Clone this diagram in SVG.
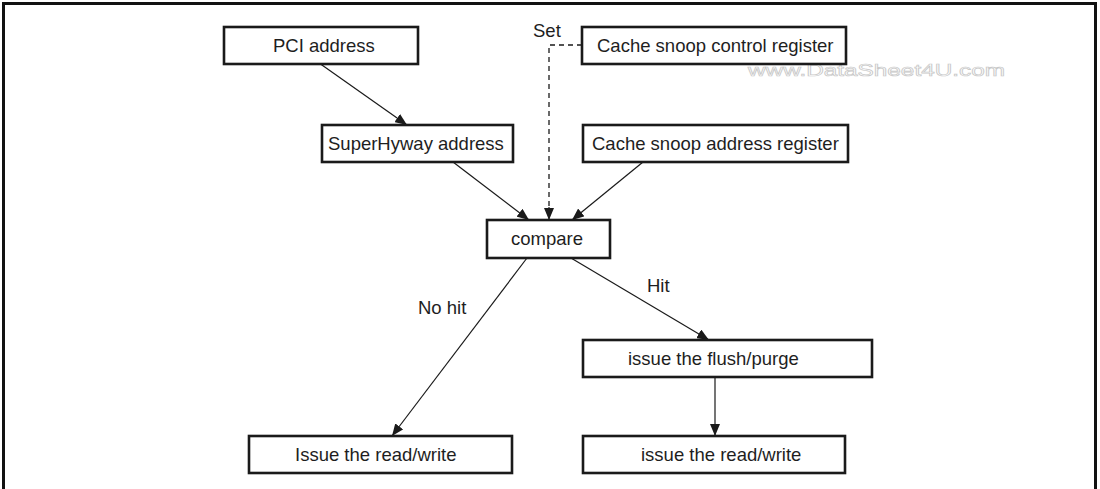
<svg xmlns="http://www.w3.org/2000/svg" width="1100" height="489" viewBox="0 0 1100 489">
<style>
.box{fill:#fff;stroke:#1a1a1a;stroke-width:2.6}
.t{font-family:"Liberation Sans",Arial,sans-serif;font-size:18.5px;fill:#1e1e1e}
.c{stroke:#1a1a1a;stroke-width:1.2;fill:none}
.d{stroke:#1a1a1a;stroke-width:1.3;fill:none;stroke-dasharray:5,4}
</style>
<defs>
<marker id="ah" viewBox="0 0 12 10" refX="12" refY="5" markerWidth="12" markerHeight="10" markerUnits="userSpaceOnUse" orient="auto">
<path d="M0,0 L12,5 L0,10 z" fill="#1a1a1a"/>
</marker>
</defs>
<rect x="0" y="0" width="1100" height="489" fill="#fff"/>
<path d="M3.5,492 V3.5 H1095.5 V492" fill="none" stroke="#111" stroke-width="3"/>
<text x="748" y="76" font-family="'Liberation Sans',Arial,sans-serif" font-size="17" fill="none" stroke="#c8c8c8" stroke-width="0.7" textLength="257" lengthAdjust="spacingAndGlyphs">www.DataSheet4U.com</text>
<g id="connectors">
<line class="c" x1="320.5" y1="64" x2="407" y2="125" marker-end="url(#ah)"/>
<line class="c" x1="453" y1="162" x2="529" y2="220" marker-end="url(#ah)"/>
<line class="c" x1="643" y1="162" x2="572" y2="220" marker-end="url(#ah)"/>
<path class="d" d="M582,45 H549 V208"/>
<line class="c" x1="549" y1="207" x2="549" y2="220" marker-end="url(#ah)"/>
<line class="c" x1="527" y1="258" x2="392" y2="436" marker-end="url(#ah)"/>
<line class="c" x1="571" y1="258" x2="709" y2="340" marker-end="url(#ah)"/>
<line class="c" x1="715" y1="377" x2="715" y2="436" marker-end="url(#ah)"/>
<text class="t" x="533" y="37">Set</text>
<text class="t" x="418" y="314">No hit</text>
<text class="t" x="647" y="292">Hit</text>
</g>
<g id="pci">
<rect class="box" x="224" y="27" width="194" height="37"/>
<text class="t" x="273" y="52">PCI address</text>
</g>
<g id="superhyway">
<rect class="box" x="322" y="125" width="191" height="37"/>
<text class="t" x="328" y="150">SuperHyway address</text>
</g>
<g id="ctrl">
<rect class="box" x="582" y="27" width="264" height="37"/>
<text class="t" x="597" y="52">Cache snoop control register</text>
</g>
<g id="addr">
<rect class="box" x="583" y="125" width="265" height="37"/>
<text class="t" x="592" y="150">Cache snoop address register</text>
</g>
<g id="compare">
<rect class="box" x="487" y="220" width="123" height="38"/>
<text class="t" x="511" y="245">compare</text>
</g>
<g id="flush">
<rect class="box" x="583" y="340" width="289" height="37"/>
<text class="t" x="628" y="365">issue the flush/purge</text>
</g>
<g id="rw-left">
<rect class="box" x="249" y="436" width="263" height="37"/>
<text class="t" x="295" y="461">Issue the read/write</text>
</g>
<g id="rw-right">
<rect class="box" x="583" y="436" width="262" height="37"/>
<text class="t" x="641" y="461">issue the read/write</text>
</g>
</svg>
